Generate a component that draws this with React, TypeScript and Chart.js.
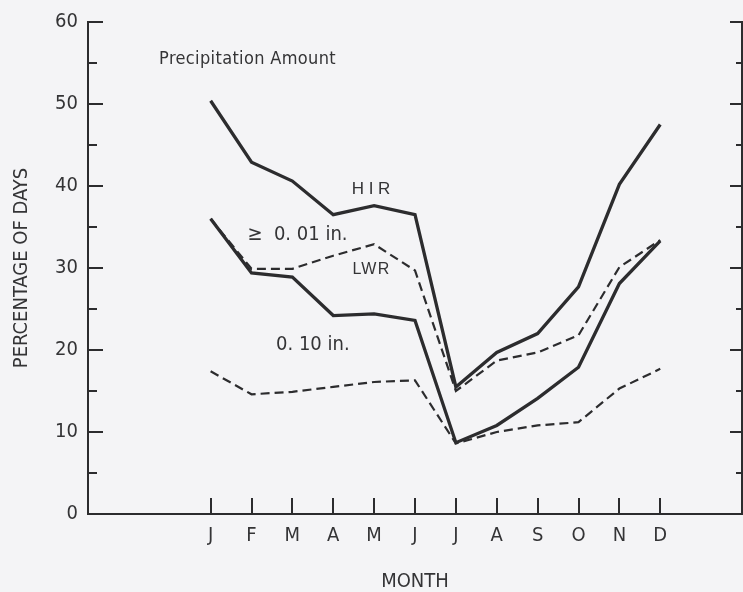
import React, { useEffect, useRef } from "react";
import { Chart, registerables } from "chart.js";

Chart.register(...registerables);

// ---- data ----
const MONTHS = ["J", "F", "M", "A", "M", "J", "J", "A", "S", "O", "N", "D"];
const HIR_001 = [50.4, 42.9, 40.6, 36.5, 37.6, 36.5, 15.5, 19.7, 22.0, 27.7, 40.2, 47.5];
const LWR_001 = [36.0, 29.9, 29.9, 31.5, 32.9, 29.7, 15.0, 18.7, 19.7, 21.8, 30.1, 33.4];
const HIR_010 = [36.0, 29.4, 28.9, 24.2, 24.4, 23.6, 8.7, 10.8, 14.1, 17.9, 28.1, 33.3];
const LWR_010 = [17.4, 14.6, 14.9, 15.5, 16.1, 16.3, 8.6, 10.0, 10.8, 11.2, 15.3, 17.7];
const Y_TICKS = [0, 5, 10, 15, 20, 25, 30, 35, 40, 45, 50, 55, 60];
const Y_LABELED = [0, 10, 20, 30, 40, 50, 60];
const Y_TITLE = "PERCENTAGE OF DAYS";
const X_TITLE = "MONTH";

// annotation texts (placed in data coordinates)
const NOTE_TEXT = ["Precipitation Amount", "H I R", "\u2265  0. 01 in.", "LWR", "0. 10 in."];
const NOTE_X = [-1.26, 3.45, 0.9, 3.47, 1.6];
const NOTE_Y = [55.4, 39.6, 34.1, 29.8, 20.6];

const INK = "#2c2c2e";
const TEXT = "#343436";
const BG = "#f4f4f6";
const NARROW = "'Liberation Sans Narrow', 'DejaVu Sans Condensed', 'Roboto Condensed', sans-serif";
const REG = "'Liberation Sans', Arial, sans-serif";

const NOTE_FONT = [
  { f: `18px ${NARROW}`, ls: "0.35px" },
  { f: `17px ${REG}`, ls: "0px" },
  { f: `20px ${NARROW}`, ls: "0px" },
  { f: `16px ${REG}`, ls: "1.2px" },
  { f: `20px ${NARROW}`, ls: "0px" },
];

const tickPlugin = {
  id: "inwardTicks",
  afterDraw(chart: any) {
    const { ctx, chartArea, scales } = chart;
    const y = scales.y;
    const x = scales.x;
    ctx.save();
    ctx.strokeStyle = INK;
    ctx.lineWidth = 2;
    ctx.beginPath();
    Y_TICKS.forEach((v) => {
      const py = Math.round(y.getPixelForValue(v));
      const major = v % 10 === 0;
      ctx.moveTo(chartArea.left, py);
      ctx.lineTo(chartArea.left + (major ? 15 : 9), py);
      ctx.moveTo(chartArea.right, py);
      ctx.lineTo(chartArea.right - (major ? 12 : 6), py);
    });
    MONTHS.forEach((_, i) => {
      const px = Math.round(x.getPixelForValue(i));
      ctx.moveTo(px, chartArea.bottom);
      ctx.lineTo(px, chartArea.bottom - 16);
    });
    ctx.stroke();
    ctx.restore();
  },
};

const notesPlugin = {
  id: "notes",
  afterDatasetsDraw(chart: any) {
    const { ctx, scales } = chart;
    ctx.save();
    ctx.fillStyle = TEXT;
    ctx.textAlign = "left";
    ctx.textBaseline = "middle";
    NOTE_TEXT.forEach((t, i) => {
      ctx.font = NOTE_FONT[i].f;
      try { (ctx as any).letterSpacing = NOTE_FONT[i].ls; } catch (e) {}
      ctx.fillText(t, scales.x.getPixelForValue(NOTE_X[i]), scales.y.getPixelForValue(NOTE_Y[i]));
    });
    ctx.restore();
  },
};

function series(vals: number[]) {
  return vals.map((v, i) => ({ x: i, y: v }));
}

export default function App() {
  const ref = useRef<HTMLCanvasElement>(null);
  useEffect(() => {
    if (!ref.current) return;
    const font = { family: NARROW, size: 20 };
    const solid = { borderColor: INK, borderWidth: 3.3, pointRadius: 0, fill: false, tension: 0 };
    const dashed = { borderColor: INK, borderWidth: 2.2, borderDash: [9, 5], pointRadius: 0, fill: false, tension: 0 };
    const chart = new Chart(ref.current, {
      type: "line",
      data: {
        datasets: [
          { label: "LWR 0.10", data: series(LWR_010), ...dashed },
          { label: "LWR 0.01", data: series(LWR_001), ...dashed },
          { label: "HIR 0.10", data: series(HIR_010), ...solid },
          { label: "HIR 0.01", data: series(HIR_001), ...solid },
        ],
      },
      options: {
        animation: false,
        responsive: false,
        layout: { padding: { top: 21, left: 0, right: 0, bottom: 0 } },
        plugins: { legend: { display: false }, tooltip: { enabled: false } },
        scales: {
          x: {
            type: "linear",
            min: -3,
            max: 13,
            position: "bottom",
            afterBuildTicks: (s: any) => {
              s.ticks = MONTHS.map((_, i) => ({ value: i }));
            },
            afterFit: (s: any) => {
              s.height = 78;
            },
            ticks: {
              callback: (v: any) => MONTHS[v] ?? "",
              font,
              color: TEXT,
              padding: 9.5,
              autoSkip: false,
              maxRotation: 0,
            },
            grid: { display: false, drawTicks: false },
            border: { display: true, color: INK, width: 2 },
            title: {
              display: true,
              text: X_TITLE,
              font: { family: NARROW, size: 20, lineHeight: 1 },
              color: TEXT,
              padding: { top: 0, bottom: 0 },
            },
          },
          y: {
            type: "linear",
            min: 0,
            max: 60,
            position: "left",
            afterBuildTicks: (s: any) => {
              s.ticks = Y_TICKS.map((v) => ({ value: v }));
            },
            afterFit: (s: any) => {
              s.width = 88;
            },
            ticks: {
              callback: (v: any) => (Y_LABELED.includes(v) ? String(v) : ""),
              font,
              color: TEXT,
              padding: 10,
            },
            grid: { display: false, drawTicks: false },
            border: { display: true, color: INK, width: 2 },
            title: {
              display: true,
              text: Y_TITLE,
              font: { family: NARROW, size: 20, lineHeight: 1.2 },
              color: TEXT,
              padding: { top: 9.5, bottom: 0 },
            },
          },
          y2: {
            type: "linear",
            min: 0,
            max: 60,
            position: "right",
            afterFit: (s: any) => {
              s.width = 1;
            },
            ticks: { display: false },
            grid: { display: false, drawTicks: false },
            border: { display: true, color: INK, width: 2 },
          },
        },
      },
      plugins: [tickPlugin, notesPlugin],
    } as any);
    return () => chart.destroy();
  }, []);
  return (
    <div style={{ position: "fixed", left: 0, top: 0, width: 743, height: 592, background: BG }}>
      <canvas ref={ref} width={743} height={592} style={{ display: "block" }} />
    </div>
  );
}
